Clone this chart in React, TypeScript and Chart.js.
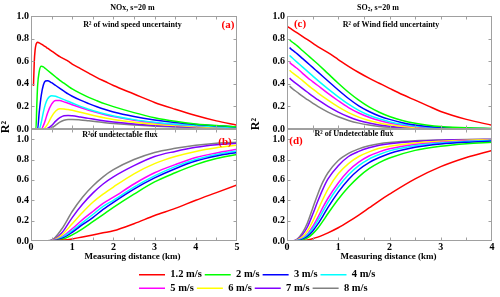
import React, { useEffect, useRef } from 'react';
import { Chart, registerables } from 'chart.js';
Chart.register(...registerables);

// ---------- series ----------
const seriesLabels = ['1.2 m/s', '2 m/s', '3 m/s', '4 m/s', '5 m/s', '6 m/s', '7 m/s', '8 m/s'];
const seriesColors = ['#ff0000', '#00ff00', '#0000ff', '#00ffff', '#ff00ff', '#ffff00', '#8000ff', '#808080'];

const xTicksLeft = [0, 1, 2, 3, 4, 5];
const xTicksRight = [0, 1, 2, 3, 4];
const yTickLabels = ['0.0', '0.2', '0.4', '0.6', '0.8', '1.0'];

// ---------- panel (a): NOx, R2 of wind speed uncertainty ----------
const distA = [0.06, 0.08, 0.1, 0.12, 0.14, 0.16, 0.2, 0.25, 0.3, 0.35, 0.4, 0.5, 0.6, 0.7, 0.8, 0.9, 1.0, 1.2, 1.4, 1.6, 1.8, 2.0, 2.5, 3.0, 3.5, 4.0, 4.5, 5.0];
const aV12 = [0.38, 0.60, 0.70, 0.745, 0.762, 0.767, 0.762, 0.752, 0.74, 0.728, 0.715, 0.69, 0.665, 0.64, 0.62, 0.60, 0.575, 0.535, 0.495, 0.455, 0.42, 0.385, 0.31, 0.235, 0.175, 0.12, 0.072, 0.033];
const aV2 = [0, 0, 0, 0, 0.2, 0.38, 0.51, 0.555, 0.55, 0.535, 0.52, 0.49, 0.46, 0.43, 0.405, 0.38, 0.355, 0.315, 0.28, 0.25, 0.222, 0.198, 0.145, 0.10, 0.068, 0.045, 0.03, 0.02];
const aV3 = [0, 0, 0, 0, 0, 0, 0.15, 0.30, 0.39, 0.425, 0.428, 0.41, 0.385, 0.36, 0.335, 0.31, 0.29, 0.255, 0.225, 0.197, 0.172, 0.15, 0.11, 0.08, 0.057, 0.04, 0.028, 0.018];
const aV4 = [0, 0, 0, 0, 0, 0, 0, 0.06, 0.15, 0.22, 0.265, 0.295, 0.29, 0.275, 0.26, 0.245, 0.23, 0.2, 0.175, 0.152, 0.132, 0.115, 0.083, 0.06, 0.043, 0.03, 0.02, 0.014];
const aV5 = [0, 0, 0, 0, 0, 0, 0, 0, 0.03, 0.08, 0.14, 0.22, 0.253, 0.252, 0.24, 0.228, 0.215, 0.19, 0.166, 0.145, 0.126, 0.11, 0.078, 0.056, 0.04, 0.028, 0.019, 0.013];
const aV6 = [0, 0, 0, 0, 0, 0, 0, 0, 0, 0.015, 0.04, 0.11, 0.16, 0.18, 0.178, 0.172, 0.165, 0.148, 0.13, 0.113, 0.098, 0.085, 0.06, 0.043, 0.03, 0.021, 0.015, 0.01];
const aV7 = [0, 0, 0, 0, 0, 0, 0, 0, 0, 0, 0.005, 0.03, 0.07, 0.1, 0.118, 0.12, 0.117, 0.106, 0.094, 0.082, 0.071, 0.062, 0.044, 0.031, 0.022, 0.016, 0.011, 0.008];
const aV8 = [0, 0, 0, 0, 0, 0, 0, 0, 0, 0, 0, 0.01, 0.035, 0.06, 0.078, 0.085, 0.085, 0.08, 0.072, 0.064, 0.056, 0.049, 0.035, 0.025, 0.018, 0.013, 0.009, 0.006];

// ---------- panel (b): NOx, R2 of undetectable flux ----------
const distB = [0, 0.25, 0.5, 0.75, 1.0, 1.25, 1.5, 1.75, 2.0, 2.5, 3.0, 3.5, 4.0, 4.5, 5.0];
const bV12 = [0, 0, 0.002, 0.008, 0.02, 0.04, 0.06, 0.08, 0.10, 0.17, 0.25, 0.32, 0.40, 0.475, 0.55];
const bV2 = [0, 0, 0, 0.015, 0.06, 0.12, 0.19, 0.26, 0.33, 0.46, 0.58, 0.67, 0.75, 0.81, 0.85];
const bV3 = [0, 0, 0.001, 0.025, 0.085, 0.16, 0.23, 0.31, 0.38, 0.51, 0.62, 0.71, 0.785, 0.835, 0.87];
const bV4 = [0, 0, 0.001, 0.035, 0.10, 0.18, 0.26, 0.34, 0.40, 0.53, 0.64, 0.73, 0.80, 0.85, 0.885];
const bV5 = [0, 0, 0.002, 0.04, 0.12, 0.21, 0.29, 0.37, 0.43, 0.56, 0.67, 0.75, 0.82, 0.865, 0.90];
const bV6 = [0, 0, 0.003, 0.06, 0.17, 0.28, 0.38, 0.46, 0.53, 0.66, 0.76, 0.83, 0.88, 0.915, 0.94];
const bV7 = [0, 0, 0.005, 0.08, 0.23, 0.36, 0.47, 0.56, 0.63, 0.74, 0.83, 0.88, 0.92, 0.945, 0.96];
const bV8 = [0, 0, 0.01, 0.12, 0.29, 0.43, 0.54, 0.63, 0.70, 0.80, 0.87, 0.91, 0.94, 0.96, 0.97];

// ---------- panel (c): SO2, R2 of wind field uncertainty ----------
const distC = [0, 0.05, 0.1, 0.2, 0.3, 0.4, 0.5, 0.6, 0.8, 1.0, 1.2, 1.4, 1.6, 1.8, 2.0, 2.25, 2.5, 2.75, 3.0, 3.5, 4.0];
const cV12 = [0.91, 0.895, 0.88, 0.85, 0.82, 0.79, 0.76, 0.73, 0.675, 0.615, 0.555, 0.50, 0.45, 0.405, 0.36, 0.305, 0.255, 0.205, 0.155, 0.085, 0.033];
const cV2 = [null, 0.79, 0.77, 0.735, 0.695, 0.655, 0.615, 0.575, 0.49, 0.405, 0.325, 0.255, 0.195, 0.148, 0.11, 0.075, 0.05, 0.033, 0.022, 0.01, 0.005];
const cV3 = [null, 0.72, 0.70, 0.665, 0.625, 0.585, 0.545, 0.505, 0.425, 0.345, 0.27, 0.205, 0.155, 0.115, 0.085, 0.056, 0.036, 0.023, 0.015, 0.006, 0.003];
const cV4 = [null, 0.65, 0.63, 0.59, 0.55, 0.51, 0.47, 0.43, 0.355, 0.285, 0.22, 0.165, 0.122, 0.09, 0.065, 0.042, 0.027, 0.017, 0.011, 0.004, 0.002];
const cV5 = [null, 0.59, 0.57, 0.535, 0.495, 0.455, 0.42, 0.385, 0.315, 0.25, 0.19, 0.142, 0.104, 0.075, 0.054, 0.035, 0.022, 0.014, 0.009, 0.003, 0.001];
const cV6 = [null, 0.52, 0.50, 0.465, 0.43, 0.39, 0.355, 0.32, 0.255, 0.195, 0.145, 0.105, 0.075, 0.053, 0.037, 0.023, 0.014, 0.009, 0.005, 0.002, 0.001];
const cV7 = [null, 0.45, 0.43, 0.395, 0.36, 0.325, 0.29, 0.26, 0.2, 0.15, 0.108, 0.076, 0.053, 0.036, 0.025, 0.015, 0.009, 0.005, 0.003, 0.001, 0];
const cV8 = [null, 0.38, 0.36, 0.325, 0.29, 0.26, 0.23, 0.20, 0.15, 0.108, 0.076, 0.052, 0.035, 0.023, 0.015, 0.009, 0.005, 0.003, 0.002, 0.001, 0];

// ---------- panel (d): SO2, R2 of undetectable flux ----------
const distD = [0, 0.1, 0.2, 0.3, 0.4, 0.5, 0.6, 0.7, 0.8, 1.0, 1.2, 1.4, 1.6, 1.8, 2.0, 2.5, 3.0, 3.5, 4.0];
const dV12 = [0, 0, 0, 0.003, 0.01, 0.022, 0.038, 0.058, 0.08, 0.13, 0.19, 0.255, 0.325, 0.395, 0.46, 0.61, 0.73, 0.82, 0.89];
const dV2 = [0, 0, 0.001, 0.008, 0.03, 0.07, 0.125, 0.195, 0.27, 0.41, 0.53, 0.63, 0.71, 0.77, 0.815, 0.89, 0.93, 0.955, 0.97];
const dV3 = [0, 0, 0.003, 0.015, 0.045, 0.095, 0.165, 0.245, 0.33, 0.48, 0.605, 0.70, 0.77, 0.82, 0.86, 0.92, 0.952, 0.97, 0.982];
const dV4 = [0, 0, 0.004, 0.02, 0.06, 0.12, 0.2, 0.29, 0.38, 0.53, 0.65, 0.74, 0.805, 0.85, 0.885, 0.935, 0.962, 0.978, 0.987];
const dV5 = [0, 0, 0.005, 0.025, 0.07, 0.14, 0.23, 0.33, 0.42, 0.57, 0.69, 0.775, 0.835, 0.875, 0.905, 0.948, 0.97, 0.983, 0.99];
const dV6 = [0, 0, 0.01, 0.04, 0.10, 0.19, 0.30, 0.41, 0.51, 0.66, 0.76, 0.83, 0.875, 0.91, 0.93, 0.963, 0.98, 0.99, 0.995];
const dV7 = [0, 0, 0.015, 0.06, 0.14, 0.26, 0.39, 0.51, 0.61, 0.74, 0.83, 0.88, 0.915, 0.94, 0.955, 0.978, 0.99, 0.995, 0.998];
const dV8 = [0, 0, 0.02, 0.08, 0.18, 0.32, 0.46, 0.58, 0.67, 0.79, 0.86, 0.905, 0.935, 0.955, 0.967, 0.985, 0.993, 0.997, 0.999];

// ---------- helpers ----------
const FONT = '"Liberation Serif", "Times New Roman", serif';

type Run = { t: string; size: number; dy?: number };
type TextItem = { runs: Run[]; x: number; y: number; color?: string; rotate?: boolean };

function drawText(ctx: CanvasRenderingContext2D, item: TextItem) {
  ctx.save();
  ctx.translate(item.x, item.y);
  if (item.rotate) ctx.rotate(-Math.PI / 2);
  ctx.fillStyle = item.color || '#000';
  ctx.textBaseline = 'middle';
  ctx.textAlign = 'left';
  let total = 0;
  const widths: number[] = [];
  for (const r of item.runs) {
    ctx.font = `bold ${r.size}px ${FONT}`;
    const w = ctx.measureText(r.t).width;
    widths.push(w);
    total += w;
  }
  let cx = -total / 2;
  item.runs.forEach((r, i) => {
    ctx.font = `bold ${r.size}px ${FONT}`;
    ctx.fillText(r.t, cx, r.dy || 0);
    cx += widths[i];
  });
  ctx.restore();
}

function makeDecor(texts: TextItem[]) {
  return {
    id: 'decor',
    afterDatasetsDraw(chart: any) {
      const { ctx, chartArea: a } = chart;
      const xs = chart.scales.x;
      const ys = chart.scales.y;
      ctx.save();
      ctx.strokeStyle = '#a0a0a0';
      ctx.lineWidth = 1;
      const L = Math.round(a.left) + 0.5;
      const R = Math.round(a.right) - 0.5;
      const T = Math.round(a.top) + 0.5;
      const B = Math.round(a.bottom) - 0.5;
      ctx.strokeRect(L, T, R - L, B - T);
      ctx.beginPath();
      for (let v = 0.5; v < xs.max - 1e-6; v += 0.5) {
        const px = Math.round(xs.getPixelForValue(v)) + 0.5;
        ctx.moveTo(px, B); ctx.lineTo(px, B - 3);
        ctx.moveTo(px, T); ctx.lineTo(px, T + 3);
      }
      for (let v = 0.2; v < Math.min(1.01, ys.max - 1e-6); v += 0.2) {
        const py = Math.round(ys.getPixelForValue(v)) + 0.5;
        ctx.moveTo(L, py); ctx.lineTo(L + 3, py);
        ctx.moveTo(R, py); ctx.lineTo(R - 3, py);
      }
      ctx.stroke();
      ctx.restore();
    },
    afterDraw(chart: any) {
      const ctx = chart.ctx;
      texts.forEach((t) => drawText(ctx, t));
    },
  };
}

function buildDatasets(xs: number[], ys: (number | null)[][]) {
  return seriesLabels.map((label, i) => ({
    label,
    data: xs.map((x, j) => ({ x, y: ys[i][j] })),
    borderColor: seriesColors[i],
    backgroundColor: seriesColors[i],
    borderWidth: 1.5,
    pointRadius: 0,
    fill: false,
    cubicInterpolationMode: 'monotone' as const,
    spanGaps: false,
  }));
}

type PanelSpec = {
  xs: number[];
  ys: (number | null)[][];
  xTicks: number[];
  yMax: number;
  showX: boolean;
  pad: { left: number; right: number; top: number; bottom: number };
  yWidth: number;
  texts: TextItem[];
};

function panelConfig(p: PanelSpec): any {
  const tickFont = { family: FONT, weight: 'bold' as const, size: 10 };
  const xMax = p.xTicks[p.xTicks.length - 1];
  return {
    type: 'line',
    data: { datasets: buildDatasets(p.xs, p.ys) },
    options: {
      animation: false,
      responsive: false,
      devicePixelRatio: 1,
      layout: { padding: p.pad },
      plugins: { legend: { display: false }, tooltip: { enabled: false } },
      scales: {
        x: {
          type: 'linear',
          min: 0,
          max: xMax,
          grid: { display: false, drawTicks: false },
          border: { display: false },
          ticks: {
            display: p.showX,
            stepSize: 1,
            padding: 0,
            color: '#000',
            font: tickFont,
            maxRotation: 0,
            autoSkip: false,
            callback: (v: number) => String(v),
          },
          afterBuildTicks: (s: any) => {
            s.ticks = p.xTicks.map((v) => ({ value: v }));
          },
          afterFit: (s: any) => {
            s.height = p.showX ? 14 : 0;
          },
        },
        y: {
          type: 'linear',
          min: 0,
          max: p.yMax,
          grid: { display: false, drawTicks: false },
          border: { display: false },
          ticks: {
            padding: 2,
            color: '#000',
            font: tickFont,
            callback: (v: number) => yTickLabels[Math.round(v * 5)] ?? '',
          },
          afterBuildTicks: (s: any) => {
            s.ticks = yTickLabels.map((_, i) => ({ value: i * 0.2 }));
          },
          afterFit: (s: any) => {
            s.width = p.yWidth;
          },
        },
      },
    },
    plugins: [makeDecor(p.texts)],
  };
}

const R2 = 'R\u00b2';

const panels: PanelSpec[] = [
  {
    xs: distA,
    ys: [aV12, aV2, aV3, aV4, aV5, aV6, aV7, aV8],
    xTicks: xTicksLeft,
    yMax: 1.0,
    showX: false,
    pad: { left: 0, right: 263, top: 16, bottom: 168 },
    yWidth: 31,
    texts: [
      { runs: [{ t: 'NOx, s=20 m', size: 8 }], x: 132.5, y: 7.5 },
      { runs: [{ t: R2 + ' of wind speed uncertainty', size: 8 }], x: 132.5, y: 25 },
      { runs: [{ t: '(a)', size: 11 }], x: 228, y: 25, color: '#ff0000' },
      { runs: [{ t: R2, size: 12 }], x: 6, y: 127, rotate: true },
    ],
  },
  {
    xs: distB,
    ys: [bV12, bV2, bV3, bV4, bV5, bV6, bV7, bV8],
    xTicks: xTicksLeft,
    yMax: 1.1,
    showX: true,
    pad: { left: 0, right: 263, top: 129, bottom: 42 },
    yWidth: 31,
    texts: [
      { runs: [{ t: R2 + 'of undetectable flux', size: 8 }], x: 120, y: 135 },
      { runs: [{ t: '(b)', size: 11 }], x: 225, y: 142, color: '#ff0000' },
      { runs: [{ t: 'Measuring distance (km)', size: 9 }], x: 132.5, y: 257 },
    ],
  },
  {
    xs: distC,
    ys: [cV12, cV2, cV3, cV4, cV5, cV6, cV7, cV8],
    xTicks: xTicksRight,
    yMax: 1.0,
    showX: false,
    pad: { left: 247, right: 8, top: 16, bottom: 168 },
    yWidth: 40,
    texts: [
      { runs: [{ t: 'SO', size: 8 }, { t: '2', size: 5.5, dy: 2 }, { t: ', s=20 m', size: 8 }], x: 378, y: 7.5 },
      { runs: [{ t: R2 + ' of Wind field uncertainty', size: 8 }], x: 391, y: 25 },
      { runs: [{ t: '(c)', size: 11 }], x: 300, y: 24, color: '#ff0000' },
      { runs: [{ t: R2, size: 12 }], x: 256, y: 124, rotate: true },
    ],
  },
  {
    xs: distD,
    ys: [dV12, dV2, dV3, dV4, dV5, dV6, dV7, dV8],
    xTicks: xTicksRight,
    yMax: 1.1,
    showX: true,
    pad: { left: 247, right: 8, top: 129, bottom: 42 },
    yWidth: 40,
    texts: [
      { runs: [{ t: R2 + ' of Undetectable flux', size: 8 }], x: 354, y: 134 },
      { runs: [{ t: '(d)', size: 11 }], x: 296, y: 141, color: '#ff0000' },
      { runs: [{ t: 'Measuring distance (km)', size: 9 }], x: 388.5, y: 257 },
    ],
  },
];

function legendConfig(): any {
  return {
    type: 'line',
    data: {
      datasets: seriesLabels.map((label, i) => ({
        label,
        data: [],
        borderColor: seriesColors[i],
        backgroundColor: seriesColors[i],
        borderWidth: 1.5,
      })),
    },
    options: {
      animation: false,
      responsive: false,
      devicePixelRatio: 1,
      layout: { padding: { top: 0.5, left: 0, right: 0, bottom: 0 } },
      scales: { x: { display: false }, y: { display: false } },
      plugins: {
        tooltip: { enabled: false },
        legend: {
          display: true,
          position: 'top',
          align: 'start',
          maxHeight: 100,
          labels: {
            usePointStyle: true,
            pointStyle: 'line',
            pointStyleWidth: 26,
            padding: 3,
            color: '#000',
            font: { family: FONT, weight: 'bold', size: 10.5 },
          },
        },
      },
    },
  };
}

export default function App() {
  const refs = [useRef<HTMLCanvasElement>(null), useRef<HTMLCanvasElement>(null), useRef<HTMLCanvasElement>(null), useRef<HTMLCanvasElement>(null)];
  const legendRef = useRef<HTMLCanvasElement>(null);

  useEffect(() => {
    const charts: Chart[] = [];
    panels.forEach((p, i) => {
      const c = refs[i].current;
      if (c) charts.push(new Chart(c, panelConfig(p)));
    });
    if (legendRef.current) charts.push(new Chart(legendRef.current, legendConfig()));
    return () => charts.forEach((c) => c.destroy());
  }, []);

  const full: React.CSSProperties = { position: 'absolute', left: 0, top: 0, width: 500, height: 297 };
  return (
    <div style={{ position: 'fixed', left: 0, top: 0, width: 500, height: 297, background: '#fff', overflow: 'hidden' }}>
      {refs.map((r, i) => (
        <canvas key={i} ref={r} width={500} height={297} style={full} />
      ))}
      <canvas
        ref={legendRef}
        width={270}
        height={31}
        style={{ position: 'absolute', left: 136, top: 266, width: 270, height: 31 }}
      />
    </div>
  );
}
